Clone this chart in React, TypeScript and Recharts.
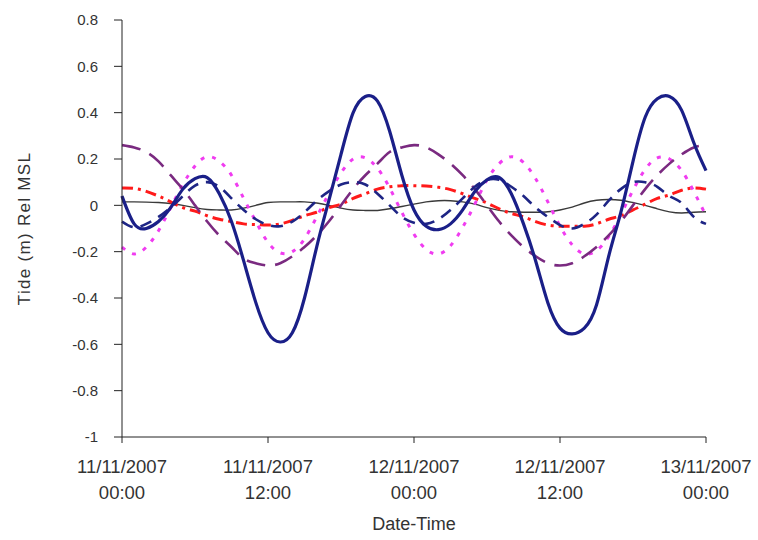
import React from 'react';
import { LineChart, Line, XAxis, YAxis } from 'recharts';

// hours since 11/11/2007 00:00
const hours = [
  0, 1, 2, 3, 4, 5, 6, 7, 8, 9, 10, 11, 12, 13, 14, 15, 16, 17, 18, 19, 20, 21, 22, 23, 24,
  25, 26, 27, 28, 29, 30, 31, 32, 33, 34, 35, 36, 37, 38, 39, 40, 41, 42, 43, 44, 45, 46, 47, 48,
];

const totalTide = [
  0.04, -0.08, -0.1, -0.07, -0.01, 0.07, 0.115, 0.12, 0.05, -0.07, -0.24, -0.42, -0.55, -0.59, -0.55, -0.4, -0.18,
  0.02, 0.22, 0.4, 0.47, 0.45, 0.32, 0.13, -0.02, -0.09, -0.105, -0.08, -0.02, 0.06, 0.11, 0.12, 0.05, -0.08,
  -0.24, -0.42, -0.53, -0.555, -0.53, -0.43, -0.22, -0.03, 0.19, 0.38, 0.46, 0.47, 0.41, 0.27, 0.15,
];

const navyDashed = [
  -0.07, -0.095, -0.08, -0.05, -0.01, 0.04, 0.085, 0.1, 0.08, 0.03, -0.02, -0.06, -0.085, -0.09, -0.07, -0.03, 0.02,
  0.06, 0.09, 0.1, 0.09, 0.05, 0.0, -0.05, -0.075, -0.08, -0.06, -0.02, 0.03, 0.08, 0.11, 0.11, 0.08, 0.04,
  -0.01, -0.05, -0.085, -0.1, -0.08, -0.04, 0.02, 0.07, 0.1, 0.1, 0.08, 0.04, 0.01, -0.05, -0.08,
];

const purpleDiurnal = [
  0.26, 0.25, 0.23, 0.19, 0.13, 0.07, 0.0, -0.07, -0.13, -0.18, -0.23, -0.25, -0.26, -0.25, -0.22, -0.18, -0.13,
  -0.07, 0.0, 0.07, 0.13, 0.18, 0.23, 0.25, 0.26, 0.25, 0.22, 0.18, 0.13, 0.07, 0.0, -0.07, -0.13, -0.18,
  -0.22, -0.25, -0.26, -0.25, -0.22, -0.18, -0.13, -0.07, 0.0, 0.07, 0.13, 0.18, 0.22, 0.25, 0.26,
];

const magentaDotted = [
  -0.18, -0.21, -0.18, -0.11, -0.01, 0.09, 0.17, 0.21, 0.19, 0.13, 0.03, -0.07, -0.16, -0.205, -0.2, -0.145, -0.05,
  0.05, 0.14, 0.2, 0.205, 0.16, 0.075, -0.03, -0.125, -0.19, -0.21, -0.175, -0.095, 0.005, 0.11, 0.18, 0.21, 0.185,
  0.115, 0.015, -0.09, -0.17, -0.21, -0.195, -0.135, -0.04, 0.065, 0.155, 0.205, 0.2, 0.15, 0.06, -0.045,
];

const redDashDot = [
  0.075, 0.073, 0.06, 0.04, 0.015, -0.01, -0.025, -0.045, -0.06, -0.07, -0.08, -0.083, -0.085, -0.08, -0.065, -0.045,
  -0.03, -0.01, 0.005, 0.03, 0.05, 0.07, 0.08, 0.085, 0.085, 0.083, 0.078, 0.068, 0.05, 0.03, 0.01, -0.015, -0.035,
  -0.05, -0.07, -0.085, -0.09, -0.09, -0.09, -0.08, -0.06, -0.045, -0.02, 0.005, 0.03, 0.045, 0.065, 0.075, 0.07,
];

const blackThin = [
  0.015, 0.015, 0.014, 0.012, 0.008, 0.0, -0.01, -0.018, -0.02, -0.02, -0.012, 0.0, 0.012, 0.015, 0.015, 0.015, 0.01,
  0.0, -0.012, -0.02, -0.022, -0.022, -0.015, -0.005, 0.005, 0.015, 0.02, 0.02, 0.015, 0.005, -0.01, -0.022, -0.028,
  -0.03, -0.03, -0.028, -0.02, -0.008, 0.01, 0.022, 0.025, 0.022, 0.012, 0.0, -0.015, -0.028, -0.033, -0.03, -0.028,
];

const xTicks = [0, 12, 24, 36, 48];
const xDates = ['11/11/2007', '11/11/2007', '12/11/2007', '12/11/2007', '13/11/2007'];
const xTimes = ['00:00', '12:00', '00:00', '12:00', '00:00'];
const yTicks = [-1, -0.8, -0.6, -0.4, -0.2, 0, 0.2, 0.4, 0.6, 0.8];

const data = hours.map((h, i) => ({
  h,
  total: totalTide[i],
  navy: navyDashed[i],
  purple: purpleDiurnal[i],
  magenta: magentaDotted[i],
  red: redDashDot[i],
  black: blackThin[i],
}));

const FONT = '"Liberation Sans", Arial, sans-serif';
const TEXT = '#333';

const DateTick = (props: any) => {
  const { x, y, payload } = props;
  const i = xTicks.indexOf(payload.value);
  return (
    <g transform={`translate(${x},${y})`}>
      <text x={0} y={28} textAnchor="middle" fill={TEXT} fontSize={18.5} fontFamily={FONT}>
        {xDates[i]}
      </text>
      <text x={0} y={54} textAnchor="middle" fill={TEXT} fontSize={18.5} fontFamily={FONT}>
        {xTimes[i]}
      </text>
    </g>
  );
};

const fmtY = (v: number) => (v === 0 ? '0' : String(Number(v.toFixed(1))));

export default function App() {
  return (
    <div style={{ position: 'absolute', left: 0, top: 0, width: 758, height: 540, background: '#fff' }}>
      <LineChart
        width={758}
        height={540}
        data={data}
        margin={{ top: 20, right: 52, bottom: 0, left: 0 }}
        style={{ fontFamily: FONT }}
      >
        <XAxis
          dataKey="h"
          type="number"
          domain={[0, 48]}
          ticks={xTicks}
          tick={<DateTick />}
          tickSize={6}
          height={103}
          stroke="#222"
          interval={0}
          label={{
            content: (p: any) => {
              const vb = p.viewBox;
              return (
                <text x={vb.x + vb.width / 2} y={530} textAnchor="middle" fill={TEXT} fontSize={18} fontFamily={FONT}>
                  Date-Time
                </text>
              );
            },
          }}
        />
        <YAxis
          type="number"
          domain={[-1, 0.8]}
          ticks={yTicks}
          tickFormatter={fmtY}
          width={122}
          tickSize={8}
          tickMargin={16}
          stroke="#222"
          interval={0}
          tick={{ fill: TEXT, fontSize: 15, fontFamily: FONT }}
          label={{
            content: (p: any) => {
              const vb = p.viewBox;
              const cy = vb.y + vb.height / 2;
              return (
                <text
                  x={24}
                  y={cy}
                  transform={`rotate(-90 24 ${cy})`}
                  textAnchor="middle"
                  dominantBaseline="central"
                  fill={TEXT}
                  fontSize={17}
                  letterSpacing={1.3}
                  fontFamily={FONT}
                >
                  Tide (m) Rel MSL
                </text>
              );
            },
          }}
        />
        <Line type="natural" dataKey="black" stroke="#3a3a3a" strokeWidth={1.4} dot={false} isAnimationActive={false} />
        <Line type="natural" dataKey="red" stroke="#ff1a1a" strokeWidth={3} strokeDasharray="11 5 3 5" dot={false} isAnimationActive={false} />
        <Line type="natural" dataKey="magenta" stroke="#f03cf0" strokeWidth={3} strokeDasharray="4 8" dot={false} isAnimationActive={false} />
        <Line type="natural" dataKey="purple" stroke="#7a2a80" strokeWidth={2.6} strokeDasharray="19 10" dot={false} isAnimationActive={false} />
        <Line type="natural" dataKey="navy" stroke="#1e2585" strokeWidth={2.6} strokeDasharray="12 8" dot={false} isAnimationActive={false} />
        <Line type="natural" dataKey="total" stroke="#1a1f88" strokeWidth={3.2} dot={false} isAnimationActive={false} />
      </LineChart>
    </div>
  );
}
